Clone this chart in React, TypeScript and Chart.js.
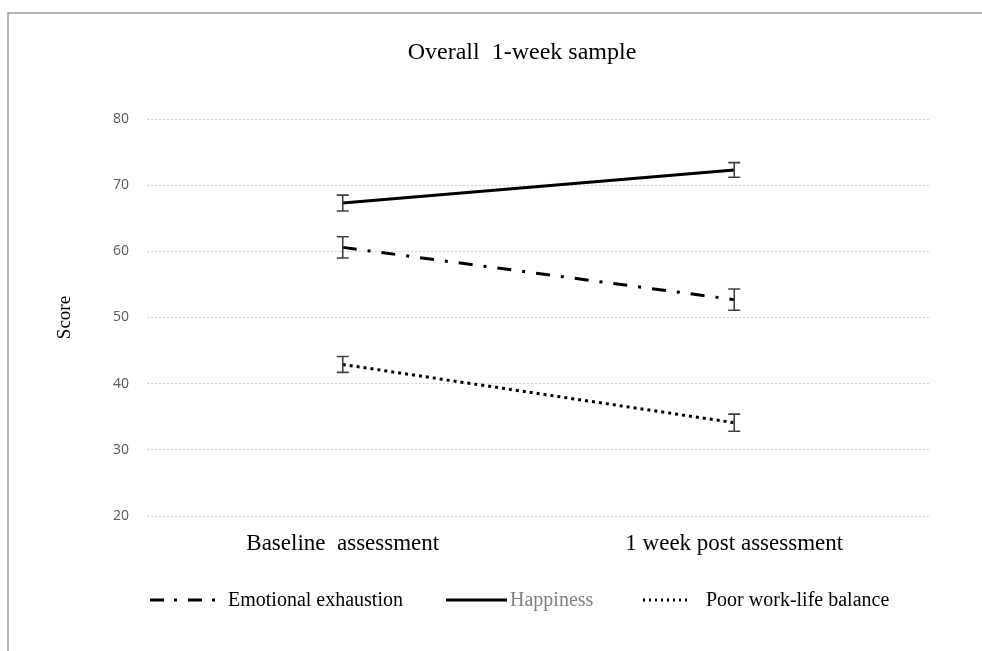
import React, { useEffect, useRef } from "react";
import { Chart, registerables } from "chart.js";

Chart.register(...registerables);

const chartTitle = "Overall  1-week sample";
const yAxisTitle = "Score";
const categories = ["Baseline  assessment", "1 week post assessment"];
const seriesLabels = ["Emotional exhaustion", "Happiness", "Poor work-life balance"];
const emotionalExhaustion = [60.6, 52.7];
const emotionalExhaustionErr = [1.6, 1.6];
const happiness = [67.3, 72.3];
const happinessErr = [1.2, 1.1];
const poorWorkLife = [42.9, 34.1];
const poorWorkLifeErr = [1.2, 1.3];
const yMin = 20;
const yMax = 80;
const yStep = 10;

const W = 982;
const H = 651;
const SERIF = "'Liberation Serif', 'Times New Roman', serif";

const legendLayout = [
  { x0: 150, x1: 215, textX: 228, color: "#000000" },
  { x0: 446, x1: 507, textX: 510, color: "#808080" },
  { x0: 643, x1: 689, textX: 706, color: "#000000" },
];
const legendY = 600;

const framePlugin = {
  id: "frame",
  beforeDraw(chart: any) {
    const ctx = chart.ctx;
    ctx.save();
    ctx.strokeStyle = "#9a9a9a";
    ctx.lineWidth = 1.5;
    ctx.beginPath();
    ctx.moveTo(8, H);
    ctx.lineTo(8, 13);
    ctx.lineTo(W, 13);
    ctx.stroke();
    ctx.restore();
  },
  afterDraw(chart: any) {
    const ctx = chart.ctx;
    ctx.save();
    ctx.fillStyle = "#000";
    ctx.font = `24px ${SERIF}`;
    ctx.textAlign = "center";
    ctx.textBaseline = "middle";
    ctx.fillText(chartTitle, 522, 53);
    ctx.restore();
  },
};

const errorBarPlugin = {
  id: "errorBars",
  afterDatasetsDraw(chart: any) {
    const ctx = chart.ctx;
    const yScale = chart.scales.y;
    chart.data.datasets.forEach((ds: any, i: number) => {
      const meta = chart.getDatasetMeta(i);
      meta.data.forEach((pt: any, j: number) => {
        const v = ds.data[j];
        const e = ds.errors[j];
        const x = pt.x;
        const yt = yScale.getPixelForValue(v + e);
        const yb = yScale.getPixelForValue(v - e);
        ctx.save();
        ctx.strokeStyle = "#404040";
        ctx.lineWidth = 1.6;
        ctx.setLineDash([]);
        ctx.beginPath();
        ctx.moveTo(x, yt);
        ctx.lineTo(x, yb);
        ctx.moveTo(x - 6, yt);
        ctx.lineTo(x + 6, yt);
        ctx.moveTo(x - 6, yb);
        ctx.lineTo(x + 6, yb);
        ctx.stroke();
        ctx.restore();
      });
    });
  },
};

const legendPlugin = {
  id: "customLegend",
  afterDraw(chart: any) {
    const ctx = chart.ctx;
    chart.data.datasets.forEach((ds: any, i: number) => {
      const L = legendLayout[i];
      ctx.save();
      ctx.strokeStyle = ds.borderColor;
      ctx.lineWidth = ds.borderWidth;
      ctx.setLineDash(ds.legendDash || ds.borderDash || []);
      ctx.beginPath();
      ctx.moveTo(L.x0, legendY);
      ctx.lineTo(L.x1, legendY);
      ctx.stroke();
      ctx.setLineDash([]);
      ctx.fillStyle = L.color;
      ctx.font = `20px ${SERIF}`;
      ctx.textAlign = "left";
      ctx.textBaseline = "middle";
      ctx.fillText(ds.label, L.textX, legendY + 1);
      ctx.restore();
    });
  },
};

export default function App() {
  const canvasRef = useRef<HTMLCanvasElement | null>(null);

  useEffect(() => {
    const canvas = canvasRef.current;
    if (!canvas) return;
    const chart = new Chart(canvas, {
      type: "line",
      data: {
        labels: categories,
        datasets: [
          {
            label: seriesLabels[0],
            data: emotionalExhaustion,
            errors: emotionalExhaustionErr,
            borderColor: "#000000",
            borderWidth: 3,
            borderDash: [14, 11, 3, 11],
            legendDash: [14, 10, 3, 11],
            pointRadius: 0,
            fill: false,
          } as any,
          {
            label: seriesLabels[1],
            data: happiness,
            errors: happinessErr,
            borderColor: "#000000",
            borderWidth: 3,
            pointRadius: 0,
            fill: false,
          } as any,
          {
            label: seriesLabels[2],
            data: poorWorkLife,
            errors: poorWorkLifeErr,
            borderColor: "#000000",
            borderWidth: 3,
            borderDash: [3, 4],
            legendDash: [2, 4],
            pointRadius: 0,
            fill: false,
          } as any,
        ],
      },
      options: {
        animation: false,
        responsive: false,
        layout: { padding: { left: 0, right: 52, top: 119, bottom: 0 } },
        plugins: {
          legend: { display: false },
          title: { display: false },
          tooltip: { enabled: false },
        },
        scales: {
          x: {
            offset: true,
            grid: { display: false, drawTicks: false },
            border: { display: false },
            ticks: {
              color: "#000000",
              font: { family: SERIF, size: 23 },
              padding: 14,
              maxRotation: 0,
              autoSkip: false,
            },
            afterFit: (s: any) => {
              s.height = 135;
            },
          },
          y: {
            min: yMin,
            max: yMax,
            ticks: {
              stepSize: yStep,
              color: "#595959",
              font: { family: "'Open Sans', sans-serif", size: 14 },
              padding: 18,
            },
            grid: { color: "#d2d2d2", lineWidth: 1, drawTicks: false },
            border: { display: false, dash: [2, 2] },
            title: {
              display: true,
              text: yAxisTitle,
              color: "#000000",
              font: { family: SERIF, size: 19 },
              padding: { top: 54, bottom: 0 },
            },
            afterFit: (s: any) => {
              s.width = 147;
            },
          },
        },
      },
      plugins: [framePlugin, errorBarPlugin, legendPlugin],
    });
    return () => chart.destroy();
  }, []);

  return (
    <div style={{ position: "absolute", left: 0, top: 0, width: W, height: H, background: "#fff" }}>
      <canvas ref={canvasRef} width={W} height={H} style={{ width: W, height: H }} />
    </div>
  );
}
